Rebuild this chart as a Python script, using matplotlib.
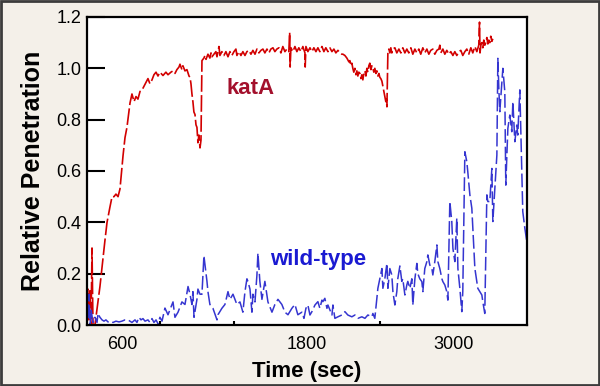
import matplotlib
matplotlib.use('Agg')
import matplotlib.pyplot as plt
from matplotlib.patches import Rectangle

plt.rcParams['font.family'] = ['Liberation Sans', 'DejaVu Sans']

# katA trace (time in sec, relative penetration)
kat_t = [0, 8, 16, 25, 33, 41, 49, 57, 65, 106, 147, 164, 188, 205, 221, 237, 254, 270,
         295, 311, 327, 352, 368, 385, 401, 417, 434, 450, 466, 483, 499, 515, 532, 548,
         565, 581, 597, 622, 646, 663, 687, 704, 720, 736, 753, 761, 777, 785, 802, 818,
         835, 843, 851, 859, 867, 875, 884, 892, 900, 908, 916, 925, 933,
         941, 957, 966, 974, 990, 1006, 1015, 1023, 1039, 1055, 1064, 1072, 1080, 1088,
         1104, 1121, 1137, 1154, 1170, 1186, 1203, 1219, 1227, 1244, 1260, 1276, 1293,
         1309, 1325, 1342, 1358, 1375, 1391, 1407, 1424, 1440, 1456, 1473, 1489, 1505,
         1522, 1538, 1554, 1571, 1587, 1603, 1620, 1636, 1652, 1659, 1663, 1669, 1685,
         1702, 1718, 1734, 1751, 1767, 1784, 1786, 1792, 1808, 1825, 1841, 1857, 1874,
         1890, 1906, 1923, 1939, 1955, 1972, 1988, 2005, 2021, 2037, 2054, 2070, 2086,
         2095, 2111, 2127, 2144, 2152, 2160, 2168, 2176, 2184, 2193, 2201, 2209, 2217,
         2225, 2234, 2242, 2250, 2258, 2266, 2275, 2283, 2291, 2299, 2307, 2315, 2324,
         2332, 2340, 2348, 2356, 2365, 2373, 2381, 2389, 2397, 2405, 2414, 2422, 2430,
         2438, 2446, 2451, 2455, 2463, 2471, 2479, 2487, 2495, 2504, 2520, 2536, 2553,
         2569, 2585, 2602, 2618, 2634, 2651, 2667, 2684, 2700, 2716, 2732, 2749, 2765,
         2782, 2798, 2814, 2831, 2847, 2864, 2880, 2888, 2896, 2913, 2929, 2945, 2962,
         2978, 2995, 3011, 3027, 3044, 3060, 3076, 3093, 3109, 3125, 3142, 3158, 3175,
         3191, 3207, 3213, 3217, 3224, 3232, 3240, 3248, 3256, 3264, 3273, 3281, 3289,
         3297, 3305, 3314, 3322]
kat_v = [0.00, 0.14, 0.02, 0.14, 0.00, 0.30, 0.00, 0.00, 0.00, 0.15, 0.33, 0.40, 0.46, 0.50,
         0.50, 0.51, 0.50, 0.53, 0.66, 0.73, 0.77, 0.865, 0.90, 0.87, 0.89, 0.88, 0.91, 0.915,
         0.93, 0.945, 0.96, 0.94, 0.955, 0.975, 0.985, 0.97, 0.985, 0.972, 0.985, 0.975, 0.985,
         0.99, 0.98, 0.995, 1.005, 1.016, 0.995, 1.01, 0.99, 0.995, 0.97, 0.965, 0.94, 0.90,
         0.87, 0.83, 0.82, 0.78, 0.77, 0.71, 0.74, 0.69, 0.72,
         1.03, 1.04, 1.05, 1.035, 1.055, 1.04, 1.06, 1.045, 1.055, 1.065, 1.045, 1.065, 1.085,
         1.05, 1.065, 1.05, 1.065, 1.045, 1.065, 1.05, 1.065, 1.075, 1.05, 1.065, 1.05, 1.065,
         1.05, 1.065, 1.07, 1.055, 1.07, 1.055, 1.075, 1.06, 1.07, 1.075, 1.06, 1.075, 1.06,
         1.075, 1.08, 1.065, 1.075, 1.08, 1.06, 1.085, 1.065, 1.075, 1.065, 1.14, 1.005, 1.08,
         1.065, 1.085, 1.065, 1.08, 1.065, 1.085, 1.06, 1.005, 1.085, 1.065, 1.08, 1.065, 1.08,
         1.065, 1.08, 1.065, 1.085, 1.065, 1.08, 1.065, 1.08, 1.065, 1.075, 1.06, 1.07, 1.06,
         1.055, 1.055, 1.05, 1.04, 1.025, 1.03, 1.01, 1.02, 1.0, 0.985, 1.0, 0.975, 0.99,
         0.97, 0.985, 0.98, 0.96, 0.975, 0.955, 0.98, 0.99, 0.97, 1.0, 0.985, 1.01, 1.02,
         0.995, 1.01, 1.0, 0.985, 1.0, 0.98, 0.99, 0.97, 0.98, 0.965, 0.96, 0.95, 0.93, 0.91,
         0.89, 0.87, 0.88, 0.85, 1.065, 1.075, 1.06, 1.08, 1.06, 1.075, 1.08, 1.06, 1.075,
         1.06, 1.08, 1.06, 1.075, 1.06, 1.08, 1.055, 1.075, 1.06, 1.075, 1.055, 1.08, 1.06,
         1.075, 1.055, 1.07, 1.075, 1.055, 1.07, 1.075, 1.09, 1.06, 1.075, 1.055, 1.07, 1.055,
         1.065, 1.05, 1.065, 1.05, 1.065, 1.07, 1.05, 1.065, 1.075, 1.055, 1.08, 1.06, 1.085,
         1.065, 1.09, 1.18, 1.06, 1.09, 1.10, 1.08, 1.11, 1.09, 1.10, 1.12, 1.095, 1.11,
         1.10, 1.125, 1.105, 1.115]

# wild-type trace
wt_t = [0, 8, 16, 25, 33, 49, 65, 82, 90, 106, 123, 139, 155, 172, 188, 213, 237, 262, 286,
        311, 335, 352, 368, 393, 409, 425, 442, 458, 475, 499, 515, 532, 548, 565, 581, 597,
        614, 638, 663, 696, 704, 720, 745, 777, 802, 827, 843, 859, 867, 876, 900, 908, 925,
        941, 957, 982, 990, 1006, 1031, 1064, 1072, 1104, 1129, 1154, 1170, 1195, 1227, 1252,
        1276, 1293, 1309, 1317, 1334, 1350, 1358, 1375, 1391, 1399, 1415, 1432, 1456, 1481,
        1514, 1538, 1563, 1595, 1620, 1645, 1677, 1702, 1726, 1759, 1776, 1792, 1808, 1825,
        1841, 1866, 1890, 1906, 1923, 1931, 1947, 1964, 1972, 2005, 2013, 2029, 2054, 2086,
        2111, 2135, 2168, 2193, 2217, 2250, 2275, 2299, 2332, 2340, 2356, 2373, 2381, 2397,
        2414, 2422, 2438, 2455, 2463, 2479, 2495, 2504, 2520, 2536, 2544, 2561, 2577, 2585,
        2602, 2618, 2626, 2643, 2659, 2667, 2684, 2700, 2708, 2724, 2741, 2749, 2765, 2782,
        2790, 2806, 2823, 2831, 2847, 2864, 2872, 2888, 2905, 2913, 2929, 2945, 2954, 2970,
        2986, 2995, 3011, 3027, 3036, 3052, 3068, 3076, 3093, 3109, 3117, 3134, 3150, 3158,
        3175, 3191, 3199, 3215, 3232, 3240, 3256, 3273, 3281, 3297, 3314, 3322, 3338, 3355,
        3363, 3371, 3379, 3396, 3404, 3420, 3428, 3445, 3461, 3477, 3486, 3502, 3518, 3526,
        3543, 3559, 3567, 3584, 3600]
wt_v = [0.15, 0.02, 0.12, 0.0, 0.06, 0.01, 0.03, 0.01, 0.045, 0.03, 0.02, 0.015, 0.02, 0.012,
        0.015, 0.01, 0.015, 0.012, 0.015, 0.02, 0.02, 0.015, 0.01, 0.02, 0.01, 0.03, 0.02,
        0.025, 0.015, 0.02, 0.01, 0.025, 0.01, 0.02, 0.005, 0.03, 0.015, 0.066, 0.04, 0.08,
        0.09, 0.03, 0.05, 0.09, 0.08, 0.15, 0.12, 0.08, 0.13, 0.03, 0.10, 0.14, 0.12, 0.12,
        0.27, 0.17, 0.13, 0.08, 0.065, 0.02, 0.04, 0.065, 0.08, 0.13, 0.10, 0.12, 0.08, 0.09,
        0.05, 0.13, 0.18, 0.17, 0.14, 0.05, 0.12, 0.09, 0.195, 0.28, 0.17, 0.10, 0.17, 0.09,
        0.05, 0.08, 0.10, 0.08, 0.05, 0.04, 0.065, 0.08, 0.04, 0.05, 0.026, 0.065, 0.078,
        0.039, 0.052, 0.078, 0.091, 0.065, 0.097, 0.091, 0.104, 0.065, 0.078, 0.039, 0.078,
        0.026, 0.032, 0.039, 0.052, 0.039, 0.032, 0.039, 0.026, 0.032, 0.026, 0.039, 0.032,
        0.045, 0.026, 0.104, 0.143, 0.18, 0.22, 0.143, 0.18, 0.24, 0.143, 0.22, 0.195, 0.13,
        0.078, 0.13, 0.18, 0.23, 0.17, 0.18, 0.117, 0.156, 0.17, 0.143, 0.18, 0.078, 0.18,
        0.24, 0.20, 0.18, 0.169, 0.13, 0.22, 0.247, 0.273, 0.234, 0.22, 0.195, 0.247, 0.312,
        0.247, 0.22, 0.18, 0.169, 0.156, 0.13, 0.097, 0.481, 0.403, 0.299, 0.247, 0.416, 0.22,
        0.143, 0.052, 0.13, 0.675, 0.636, 0.597, 0.507, 0.455, 0.377, 0.22, 0.169, 0.143,
        0.13, 0.117, 0.091, 0.045, 0.507, 0.481, 0.481, 0.61, 0.403, 0.532, 0.662, 1.039,
        0.922, 0.831, 0.948, 1.0, 0.909, 0.545, 0.766, 0.818, 0.753, 0.87, 0.714, 0.779,
        0.74, 0.916, 0.597, 0.442, 0.377, 0.325]

fig = plt.figure(figsize=(6, 3.86), dpi=100, facecolor='#f4f0e9')
ax = fig.add_axes([0.145, 0.158, 0.733, 0.798])

ax.plot(kat_t, kat_v, color='#d20000', lw=1.2, linestyle=(0, (10, 2)))
ax.plot(wt_t, wt_v, color='#3535d0', lw=1.1, linestyle=(0, (9, 2.5)))

ax.set_xlim(0, 3600)
ax.set_ylim(0, 1.2)

ax.set_yticks([0, 0.2, 0.4, 0.6, 0.8, 1.0, 1.2])
ax.set_yticklabels(['0.0', '0.2', '0.4', '0.6', '0.8', '1.0', '1.2'])
ax.tick_params(axis='y', direction='in', length=13, width=1.5, labelsize=13, pad=4)

# the "600" label sits left of its tick in the original
ax.set_xticks([290, 1800, 3000])
ax.set_xticklabels(['600', '1800', '3000'])
ax.set_xticks([600, 1200, 1800, 2400, 3000], minor=True)
ax.tick_params(axis='x', which='major', length=0, labelsize=13, pad=8)
ax.tick_params(axis='x', which='minor', direction='in', length=3, width=1.5)

for s in ax.spines.values():
    s.set_linewidth(1.6)

ax.set_xlabel('Time (sec)', fontsize=16, fontweight='bold', labelpad=6)
ax.set_ylabel('Relative Penetration', fontsize=18, fontweight='bold', labelpad=8)

ax.text(1145, 0.90, 'katA', color='#a3102c', fontsize=16, fontweight='bold')
ax.text(1497, 0.234, 'wild-type', color='#1a1ad2', fontsize=16, fontweight='bold')

fig.patches.append(Rectangle((0.002, 0.003), 0.996, 0.994, transform=fig.transFigure,
                             fill=False, lw=2, ec='#3c3c3c'))

fig.savefig('out.png', dpi=100, facecolor=fig.get_facecolor())
